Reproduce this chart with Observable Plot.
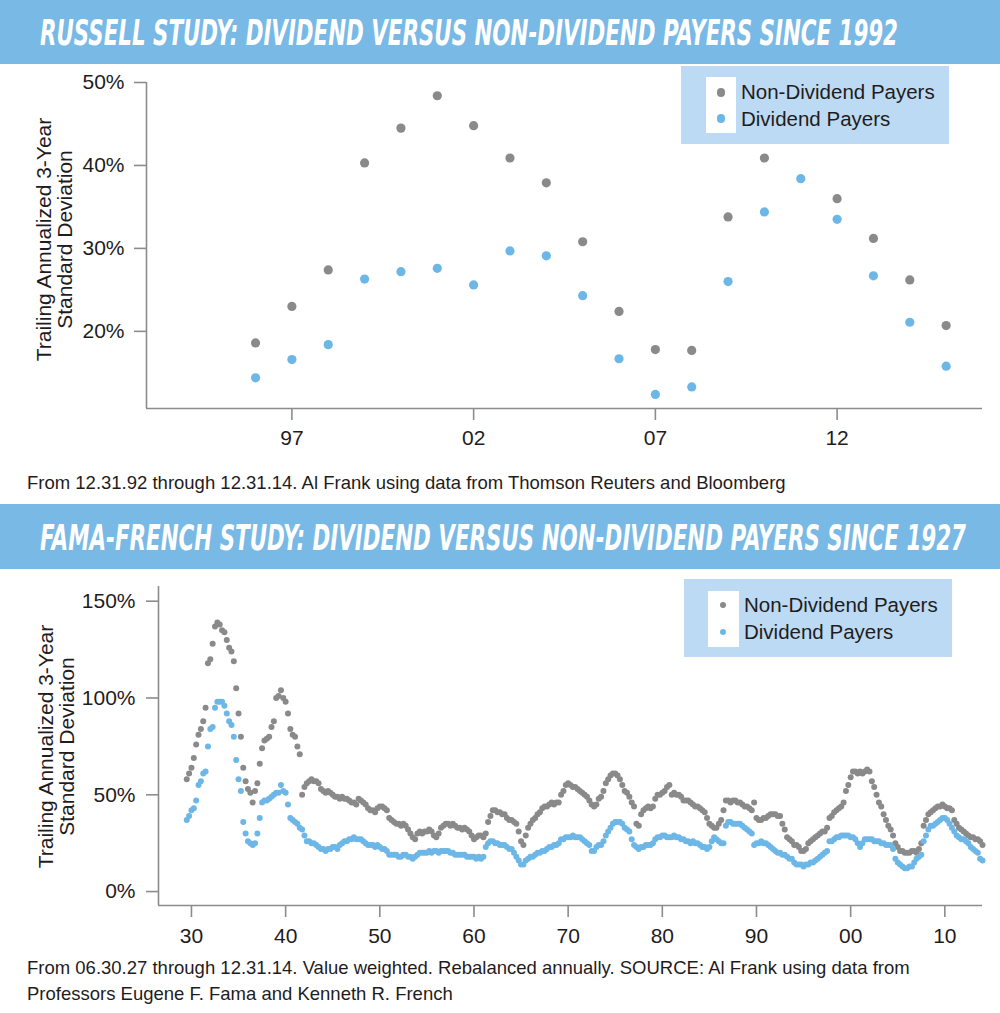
<!DOCTYPE html>
<html>
<head>
<meta charset="utf-8">
<script src="https://cdn.jsdelivr.net/npm/d3@7"></script>
<script src="https://cdn.jsdelivr.net/npm/@observablehq/plot@0.6"></script>
<style>
  html, body { margin: 0; padding: 0; background: #fff; }
  #page { position: relative; width: 1000px; height: 1013px; overflow: hidden; font-family: "Liberation Sans", Arial, sans-serif; color: #1f1c1d; }
  .banner { position: absolute; left: 0; width: 1000px; background: #78b9e6; }
  .banner svg { display: block; overflow: visible; }
  .chart { position: absolute; left: 0; }
  .caption { position: absolute; left: 27px; font-size: 18.5px; line-height: 26px; white-space: nowrap; color: #1f1c1d; }
  .ylabel { position: absolute; width: 320px; text-align: center; font-size: 21px; line-height: 20.5px; transform: rotate(-90deg); transform-origin: 50% 50%; color: #1f1c1d; white-space: nowrap; }
  .legend { position: absolute; width: 268px; height: 78px; background: #bcdaf3; }
  .legend .strip { position: absolute; background: #fff; }
  .legend .dot { position: absolute; border-radius: 50%; }
  .legend .lab { position: absolute; font-size: 20.5px; line-height: 26px; white-space: nowrap; color: #1f1c1d; }
</style>
</head>
<body>
<div id="page">
  <div class="banner" id="banner1" style="top:0;height:64px;"></div>
  <div class="chart" id="chart1" style="top:64px;"></div>
  <div class="caption" id="caption1" style="top:469.5px;"></div>
  <div class="banner" id="banner2" style="top:504px;height:65px;"></div>
  <div class="chart" id="chart2" style="top:569px;"></div>
  <div class="caption" id="caption2" style="top:955px;"></div>
</div>
<script>
// ---------------- Titles and texts ----------------
const titles = [
  "RUSSELL STUDY: DIVIDEND VERSUS NON-DIVIDEND PAYERS SINCE 1992",
  "FAMA-FRENCH STUDY: DIVIDEND VERSUS NON-DIVIDEND PAYERS SINCE 1927"
];
const captionTop = ["From 12.31.92 through 12.31.14. Al Frank using data from Thomson Reuters and Bloomberg"];
const captionBottom = [
  "From 06.30.27 through 12.31.14. Value weighted. Rebalanced annually. SOURCE: Al Frank using data from",
  "Professors Eugene F. Fama and Kenneth R. French"
];
const yLabelLines = ["Trailing Annualized 3-Year", "Standard Deviation"];
const seriesNames = ["Non-Dividend Payers", "Dividend Payers"];
const seriesColors = ["#8a8a8a", "#6db7e7"];

// ---------------- Russell study (annual) ----------------
const russellYears = [1996, 1997, 1998, 1999, 2000, 2001, 2002, 2003, 2004, 2005,
                      2006, 2007, 2008, 2009, 2010, 2011, 2012, 2013, 2014, 2015];
const russellNonDividend = [18.6, 23.0, 27.4, 40.3, 44.5, 48.4, 44.8, 40.9, 37.9, 30.8,
                            22.4, 17.8, 17.7, 33.8, 40.9, 45.0, 36.0, 31.2, 26.2, 20.7];
const russellDividend = [14.4, 16.6, 18.4, 26.3, 27.2, 27.6, 25.6, 29.7, 29.1, 24.3,
                         16.7, 12.4, 13.3, 26.0, 34.4, 38.4, 33.5, 26.7, 21.1, 15.8];
const russellXDomain = [1993, 2016];
const russellYDomain = [10.7, 50];
const russellXTicks = [1997, 2002, 2007, 2012];
const russellYTicks = [20, 30, 40, 50];

// ---------------- Fama-French study (quarterly readings) ----------------
const famaStart = 1929.5;
const famaStep = 0.25;
const famaNonDividend = [
  58, 61,             // 1929
  64, 69, 76, 81,     // 1930
  84, 88, 95, 118,    // 1931
  120, 128, 137, 139, // 1932
  138, 135, 134, 130, // 1933
  126, 124, 119, 105, // 1934
  92, 80, 64, 57,     // 1935
  53, 51, 46, 52,     // 1936
  56, 66, 74, 78,     // 1937
  79, 80, 85, 88,     // 1938
  100, 101, 104, 100, // 1939
  98, 92, 84, 81,     // 1940
  80, 75, 71, 50,     // 1941
  54, 56, 57, 58,     // 1942
  57, 57, 56, 53,     // 1943
  52, 51, 52, 51,     // 1944
  50, 49, 49, 48,     // 1945
  49, 48, 48, 47,     // 1946
  46, 46, 45, 48,     // 1947
  47, 46, 45, 43,     // 1948
  42, 42, 41, 43,     // 1949
  44, 44, 43, 42,     // 1950
  38, 37, 36, 35,     // 1951
  35, 34, 35, 34,     // 1952
  32, 30, 28, 27,     // 1953
  30, 31, 30, 31,     // 1954
  31, 32, 31, 29,     // 1955
  28, 30, 33, 34,     // 1956
  35, 35, 34, 35,     // 1957
  34, 33, 33, 32,     // 1958
  33, 32, 31, 29,     // 1959
  27, 28, 29, 29,     // 1960
  28, 30, 36, 39,     // 1961
  42, 42, 41, 41,     // 1962
  40, 40, 38, 37,     // 1963
  37, 36, 35, 31,     // 1964
  26, 24, 29, 33,     // 1965
  35, 37, 38, 40,     // 1966
  41, 43, 44, 44,     // 1967
  45, 46, 45, 46,     // 1968
  46, 50, 52, 55,     // 1969
  56, 55, 54, 54,     // 1970
  53, 52, 51, 50,     // 1971
  49, 47, 45, 44,     // 1972
  45, 48, 49, 52,     // 1973
  56, 58, 60, 61,     // 1974
  61, 60, 58, 55,     // 1975
  52, 51, 49, 46,     // 1976
  44, 35, 34, 40,     // 1977
  42, 43, 44, 43,     // 1978
  44, 48, 50, 50,     // 1979
  51, 52, 54, 55,     // 1980
  50, 51, 50, 50,     // 1981
  49, 47, 47, 47,     // 1982
  46, 45, 44, 44,     // 1983
  43, 42, 41, 38,     // 1984
  35, 34, 33, 33,     // 1985
  35, 37, 42, 47,     // 1986
  47, 46, 47, 47,     // 1987
  46, 46, 45, 44,     // 1988
  44, 43, 42, 46,     // 1989
  38, 37, 37, 38,     // 1990
  38, 39, 40, 40,     // 1991
  40, 39, 39, 35,     // 1992
  32, 28, 27, 26,     // 1993
  24, 24, 23, 21,     // 1994
  21, 22, 25, 26,     // 1995
  27, 28, 29, 30,     // 1996
  31, 31, 33, 38,     // 1997
  39, 41, 42, 43,     // 1998
  44, 46, 52, 55,     // 1999
  59, 62, 62, 61,     // 2000
  62, 61, 62, 63,     // 2001
  62, 57, 54, 50,     // 2002
  46, 44, 40, 37,     // 2003
  34, 32, 29, 25,     // 2004
  23, 21, 21, 20,     // 2005
  20, 20, 21, 21,     // 2006
  20, 22, 25, 34,     // 2007
  37, 40, 41, 42,     // 2008
  43, 44, 44, 45,     // 2009
  44, 43, 43, 42,     // 2010
  37, 35, 33, 32,     // 2011
  31, 30, 29, 28,     // 2012
  28, 27, 27, 26,     // 2013
  24                  // 2014
];
const famaDividend = [
  37, 39,             // 1929
  42, 43, 47, 55,     // 1930
  57, 61, 62, 75,     // 1931
  84, 85, 95, 98,     // 1932
  98, 98, 96, 92,     // 1933
  88, 86, 80, 68,     // 1934
  58, 52, 36, 30,     // 1935
  26, 25, 24, 25,     // 1936
  30, 38, 46, 47,     // 1937
  47, 48, 49, 50,     // 1938
  51, 51, 55, 52,     // 1939
  51, 45, 38, 37,     // 1940
  36, 35, 33, 32,     // 1941
  29, 26, 26, 25,     // 1942
  25, 24, 23, 22,     // 1943
  22, 21, 22, 22,     // 1944
  23, 23, 22, 24,     // 1945
  25, 26, 26, 27,     // 1946
  27, 28, 27, 27,     // 1947
  27, 26, 25, 24,     // 1948
  24, 24, 23, 24,     // 1949
  23, 22, 22, 21,     // 1950
  19, 19, 19, 19,     // 1951
  18, 18, 19, 19,     // 1952
  18, 18, 17, 18,     // 1953
  19, 20, 20, 20,     // 1954
  20, 21, 20, 21,     // 1955
  21, 20, 21, 21,     // 1956
  21, 21, 20, 20,     // 1957
  19, 19, 19, 19,     // 1958
  19, 18, 18, 18,     // 1959
  18, 17, 18, 17,     // 1960
  18, 23, 25, 26,     // 1961
  26, 25, 25, 24,     // 1962
  24, 24, 23, 22,     // 1963
  22, 20, 18, 16,     // 1964
  14, 14, 16, 17,     // 1965
  18, 18, 19, 20,     // 1966
  20, 21, 21, 22,     // 1967
  23, 23, 24, 24,     // 1968
  25, 27, 27, 28,     // 1969
  28, 28, 29, 28,     // 1970
  28, 28, 27, 26,     // 1971
  25, 24, 21, 21,     // 1972
  23, 24, 24, 26,     // 1973
  29, 31, 33, 35,     // 1974
  36, 36, 36, 35,     // 1975
  33, 32, 31, 27,     // 1976
  24, 23, 22, 23,     // 1977
  23, 24, 24, 24,     // 1978
  25, 27, 28, 28,     // 1979
  29, 29, 28, 28,     // 1980
  28, 29, 28, 28,     // 1981
  27, 27, 26, 26,     // 1982
  25, 26, 25, 25,     // 1983
  24, 23, 23, 22,     // 1984
  23, 26, 28, 27,     // 1985
  26, 25, 25, 34,     // 1986
  36, 36, 35, 35,     // 1987
  35, 35, 34, 33,     // 1988
  32, 31, 30, 24,     // 1989
  25, 25, 26, 25,     // 1990
  25, 24, 23, 22,     // 1991
  21, 20, 20, 19,     // 1992
  19, 18, 17, 17,     // 1993
  15, 14, 14, 14,     // 1994
  13, 14, 14, 15,     // 1995
  15, 16, 17, 18,     // 1996
  19, 20, 21, 26,     // 1997
  26, 27, 28, 28,     // 1998
  29, 29, 29, 29,     // 1999
  28, 28, 27, 25,     // 2000
  23, 25, 27, 27,     // 2001
  27, 27, 26, 26,     // 2002
  26, 25, 25, 24,     // 2003
  24, 24, 22, 17,     // 2004
  15, 14, 13, 12,     // 2005
  12, 13, 13, 15,     // 2006
  17, 18, 19, 26,     // 2007
  29, 32, 34, 34,     // 2008
  35, 36, 37, 38,     // 2009
  38, 37, 35, 33,     // 2010
  31, 29, 28, 27,     // 2011
  27, 26, 25, 23,     // 2012
  22, 21, 20, 17,     // 2013
  16                  // 2014
];
const famaXDomain = [1926.5, 2014];
const famaYDomain = [-7.2, 157.6];
const famaXTicks = [1930, 1940, 1950, 1960, 1970, 1980, 1990, 2000, 2010];
const famaYTicks = [0, 50, 100, 150];

// ---------------- helpers ----------------
const page = document.getElementById("page");
const svgNS = "http://www.w3.org/2000/svg";
const axisColor = "#8c8c8c";
const textColor = "#1f1c1d";

function banner(id, text, height, baseline, x0, len) {
  const svg = document.createElementNS(svgNS, "svg");
  svg.setAttribute("width", 1000);
  svg.setAttribute("height", height);
  const t = document.createElementNS(svgNS, "text");
  t.setAttribute("x", 0);
  t.setAttribute("y", 0);
  t.setAttribute("transform", `translate(${x0},${baseline}) scale(1,1.5)`);
  t.setAttribute("textLength", len);
  t.setAttribute("lengthAdjust", "spacingAndGlyphs");
  t.setAttribute("fill", "#ffffff");
  t.setAttribute("font-family", "DejaVu Sans Condensed, DejaVu Sans, sans-serif");
  t.setAttribute("font-weight", "bold");
  t.setAttribute("font-style", "italic");
  t.setAttribute("font-size", 24);
  t.textContent = text;
  svg.appendChild(t);
  document.getElementById(id).appendChild(svg);
}
banner("banner1", titles[0], 64, 45, 40, 858);
banner("banner2", titles[1], 65, 46, 40, 926);

document.getElementById("caption1").textContent = captionTop[0];
document.getElementById("caption2").innerHTML = captionBottom.join("<br>");

function yLabel(cx, cy) {
  const d = document.createElement("div");
  d.className = "ylabel";
  d.style.left = (cx - 160) + "px";
  d.style.top = (cy - 20.5) + "px";
  d.innerHTML = yLabelLines.join("<br>");
  page.appendChild(d);
}
yLabel(54, 239);
yLabel(56, 746);

function legend(left, top, strip, dotX, rows, r, labelX) {
  const box = document.createElement("div");
  box.className = "legend";
  box.style.left = left + "px";
  box.style.top = top + "px";
  const s = document.createElement("div");
  s.className = "strip";
  s.style.left = (strip[0] - left) + "px";
  s.style.top = (strip[1] - top) + "px";
  s.style.width = strip[2] + "px";
  s.style.height = strip[3] + "px";
  box.appendChild(s);
  seriesNames.forEach((name, i) => {
    const dot = document.createElement("div");
    dot.className = "dot";
    dot.style.width = dot.style.height = (2 * r) + "px";
    dot.style.left = (dotX - left - r) + "px";
    dot.style.top = (rows[i] - top - r) + "px";
    dot.style.background = seriesColors[i];
    box.appendChild(dot);
    const lab = document.createElement("div");
    lab.className = "lab";
    lab.style.left = (labelX - left) + "px";
    lab.style.top = (rows[i] - top - 13) + "px";
    lab.textContent = name;
    box.appendChild(lab);
  });
  page.appendChild(box);
}

// ---------------- Chart 1: Russell ----------------
const russellData = russellYears.flatMap((year, i) => [
  {year, value: russellNonDividend[i], series: seriesNames[0]},
  {year, value: russellDividend[i], series: seriesNames[1]}
]);

const chart1 = Plot.plot({
  width: 1000,
  height: 400,
  marginLeft: 146,
  marginRight: 18,
  marginTop: 18,
  marginBottom: 56,
  x: {domain: russellXDomain},
  y: {domain: russellYDomain},
  style: {fontFamily: "Liberation Sans, Arial, sans-serif", fontSize: "21px", color: textColor, background: "transparent", overflow: "visible"},
  marks: [
    Plot.ruleX([russellXDomain[0]], {stroke: axisColor, strokeWidth: 1.6}),
    Plot.ruleY([russellYDomain[0]], {stroke: axisColor, strokeWidth: 1.6}),
    Plot.axisY({ticks: russellYTicks, tickFormat: d => d + "%", tickSize: 12, tickPadding: 10, stroke: axisColor, strokeWidth: 1.6, fill: textColor, fontSize: 21, label: null}),
    Plot.axisX({ticks: russellXTicks, tickFormat: d => String(d).slice(2), tickSize: 12, tickPadding: 10, stroke: axisColor, strokeWidth: 1.6, fill: textColor, fontSize: 21, label: null}),
    Plot.dot(russellData.filter(d => d.series === seriesNames[0]), {x: "year", y: "value", r: 4.6, fill: seriesColors[0]}),
    Plot.dot(russellData.filter(d => d.series === seriesNames[1]), {x: "year", y: "value", r: 4.6, fill: seriesColors[1]})
  ]
});
document.getElementById("chart1").appendChild(chart1);

// ---------------- Chart 2: Fama-French ----------------
const famaNonData = famaNonDividend.map((value, i) => ({year: famaStart + i * famaStep, value}));
const famaDivData = famaDividend.map((value, i) => ({year: famaStart + i * famaStep, value}));

const chart2 = Plot.plot({
  width: 1000,
  height: 391,
  marginLeft: 158,
  marginRight: 18,
  marginTop: 17,
  marginBottom: 55,
  x: {domain: famaXDomain},
  y: {domain: famaYDomain},
  style: {fontFamily: "Liberation Sans, Arial, sans-serif", fontSize: "21px", color: textColor, background: "transparent", overflow: "visible"},
  marks: [
    Plot.ruleX([famaXDomain[0]], {stroke: axisColor, strokeWidth: 1.6}),
    Plot.ruleY([famaYDomain[0]], {stroke: axisColor, strokeWidth: 1.6}),
    Plot.axisY({ticks: famaYTicks, tickFormat: d => d + "%", tickSize: 12, tickPadding: 11, stroke: axisColor, strokeWidth: 1.6, fill: textColor, fontSize: 21, label: null}),
    Plot.axisX({ticks: famaXTicks, tickFormat: d => String(d).slice(2), tickSize: 12, tickPadding: 11, stroke: axisColor, strokeWidth: 1.6, fill: textColor, fontSize: 21, label: null}),
    Plot.dot(famaNonData, {x: "year", y: "value", r: 3, fill: seriesColors[0]}),
    Plot.dot(famaDivData, {x: "year", y: "value", r: 3, fill: seriesColors[1]})
  ]
});
document.getElementById("chart2").appendChild(chart2);

// ---------------- Legends ----------------
legend(681, 66, [706, 77, 30, 56], 721, [92.3, 118.7], 4.4, 741);
legend(684, 579, [708, 591, 31, 56], 723, [605, 631.7], 3.1, 744);
</script>
</body>
</html>
